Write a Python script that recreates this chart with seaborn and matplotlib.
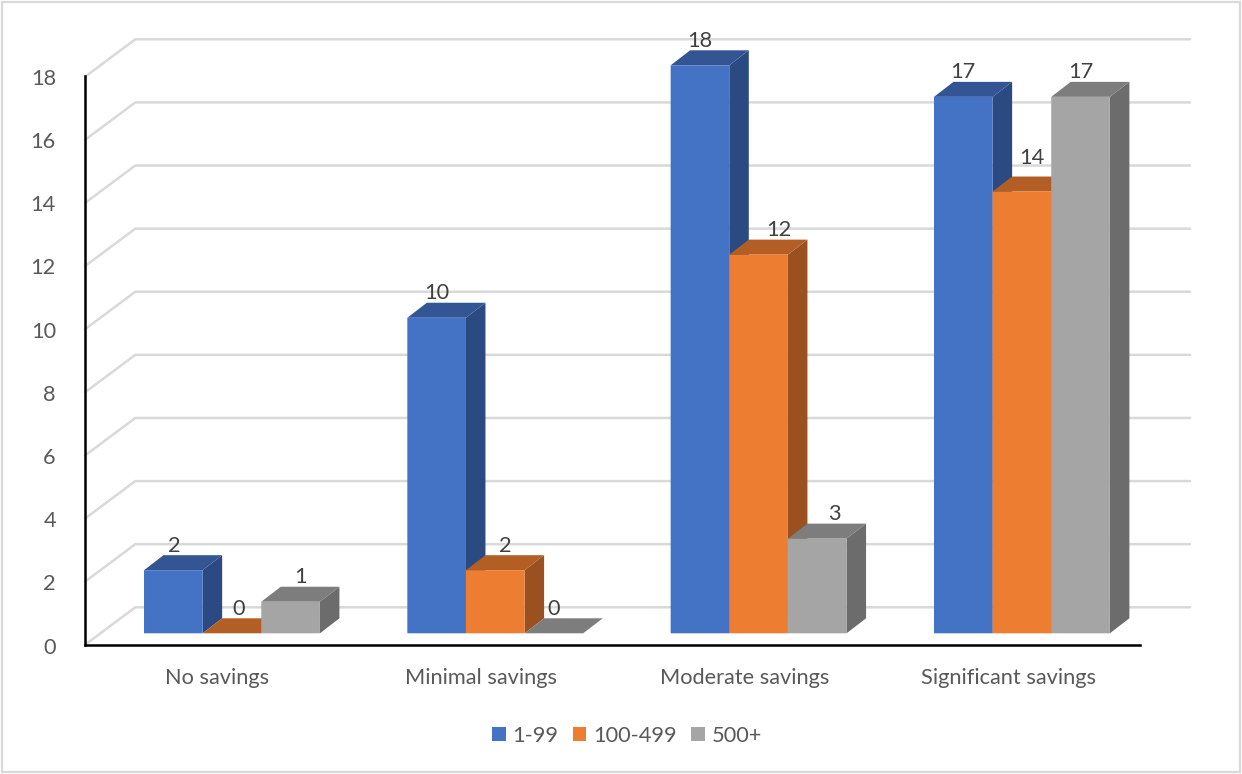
import matplotlib
matplotlib.use("Agg")
import matplotlib.pyplot as plt
from matplotlib.patches import Polygon, Rectangle
from matplotlib.transforms import ScaledTranslation
import pandas as pd
import seaborn as sns

categories = ["No savings", "Minimal savings", "Moderate savings", "Significant savings"]
series_names = ["1-99", "100-499", "500+"]
values_small = [2, 10, 18, 17]
values_mid = [0, 2, 12, 14]
values_large = [1, 0, 3, 17]
y_ticks = [0, 2, 4, 6, 8, 10, 12, 14, 16, 18]

# Per-bar value label nudges in pixels (horizontal, extra vertical)
label_nudge = {
    "1-99": [(1, 0), (0, 0), (0, 0), (0, 0)],
    "100-499": [(7, 0), (10, 0), (20, 0), (10, 9)],
    "500+": [(10, 0), (0, 0), (17, 0), (0, 0)],
}

W, H = 1242, 774
TEXT = "#595959"
GRID = "#D9D9D9"
FONT_SIZE = 15.7
front_colors = ["#4472C4", "#ED7D31", "#A5A5A5"]
side_colors = ["#2B4A82", "#9B5020", "#6C6C6C"]
top_colors = ["#335593", "#B25E25", "#7D7D7D"]

sns.set_theme(style="white")
plt.rcParams["font.family"] = ["Lato", "DejaVu Sans"]

df = pd.DataFrame({
    "category": categories * 3,
    "size": [s for s in series_names for _ in categories],
    "count": values_small + values_mid + values_large,
})

fig = plt.figure(figsize=(W / 100, H / 100), dpi=100, facecolor="white")


def pixel_axes(left, right, top, bottom):
    return fig.add_axes([left / W, 1 - bottom / H, (right - left) / W, (bottom - top) / H])


# Plane of the bars, set back from the front axes
ax = pixel_axes(100.3, 1153.6, 65.3, 633.3)
sns.barplot(
    data=df, x="category", y="count", hue="size", order=categories,
    hue_order=series_names, palette=front_colors, saturation=1,
    width=0.668, gap=0, dodge=True, ax=ax, linewidth=0,
)
ax.set_xlim(-0.5, 3.5)
ax.set_ylim(0, 18)
ax.axis("off")

px_x = 4 / (1153.6 - 100.3)
px_y = 18 / (633.3 - 65.3)
depth_x, depth_y = 19.5 * px_x, 15 * px_y

# Back wall gridlines with their diagonals running to the front axis
wall_dx, wall_dy = 35 * px_x, 26 * px_y
front_dx, front_dy = -15.3 * px_x, -11.5 * px_y
for t in y_ticks:
    ax.plot([-0.5 + front_dx, -0.5 + wall_dx, 3.5 + wall_dx + 1.5 * px_x],
            [t + front_dy, t + wall_dy, t + wall_dy],
            color=GRID, lw=1.8, clip_on=False, zorder=1, solid_joinstyle="miter")

# Extrude each bar into a side and a top face, left to right
for s, (name, container) in enumerate(zip(series_names, ax.containers)):
    for c, bar in enumerate(container):
        x0, w, h = bar.get_x(), bar.get_width(), bar.get_height()
        x1 = x0 + w
        z = 3 + (c * 3 + s) * 0.1
        bar.set_zorder(z + 0.05)
        bar.set_clip_on(False)
        bar.set_snap(False)
        if h > 0:
            ax.add_patch(Polygon(
                [(x1, 0), (x1 + depth_x, depth_y), (x1 + depth_x, h + depth_y), (x1, h)],
                closed=True, fc=side_colors[s], ec="none", zorder=z, clip_on=False, snap=False))
        ax.add_patch(Polygon(
            [(x0, h), (x1, h), (x1 + depth_x, h + depth_y), (x0 + depth_x, h + depth_y)],
            closed=True, fc=top_colors[s], ec="none", zorder=z, clip_on=False, snap=False))
        nx, ny = label_nudge[name][c]
        ax.annotate(
            f"{int(h)}", xy=(x0 + w / 2, h), xytext=(nx * 0.72, (24.5 + ny) * 0.72),
            textcoords="offset points", ha="center", va="center",
            fontsize=FONT_SIZE, color="#404040", zorder=10, annotation_clip=False)

handles, labels = ax.get_legend_handles_labels()
if ax.get_legend():
    ax.get_legend().remove()
fig.legend(
    handles, labels, loc="center", bbox_to_anchor=(627 / W, 1 - 736 / H), ncol=3,
    frameon=False, handlelength=0.62, handleheight=0.62, handletextpad=0.3,
    columnspacing=0.68, fontsize=FONT_SIZE, labelcolor=TEXT, borderpad=0,
)

# Front axes carry the tick labels and the black axis lines
front = pixel_axes(85, 1140, 76, 644.5)
front.patch.set_alpha(0)
front.set_xlim(-0.5, 3.5)
front.set_ylim(0, 18)
front.set_xticks(range(len(categories)), categories)
front.set_yticks(y_ticks)
front.tick_params(axis="both", length=0, labelsize=FONT_SIZE, labelcolor=TEXT)
front.tick_params(axis="x", pad=17)
front.tick_params(axis="y", pad=21)
nudge_down = ScaledTranslation(0, -1 / 100, fig.dpi_scale_trans)
for label in front.get_yticklabels():
    label.set_transform(label.get_transform() + nudge_down)
for side in ("top", "right"):
    front.spines[side].set_visible(False)
for side in ("left", "bottom"):
    front.spines[side].set_color("black")
    front.spines[side].set_linewidth(1.8)
front.grid(False)

# Chart area outline
fig.add_artist(Rectangle((2 / W, 2 / H), (W - 4) / W, (H - 4) / H, transform=fig.transFigure,
                         fc="none", ec=GRID, lw=1.6))

fig.savefig("out.png", dpi=100, facecolor="white")
